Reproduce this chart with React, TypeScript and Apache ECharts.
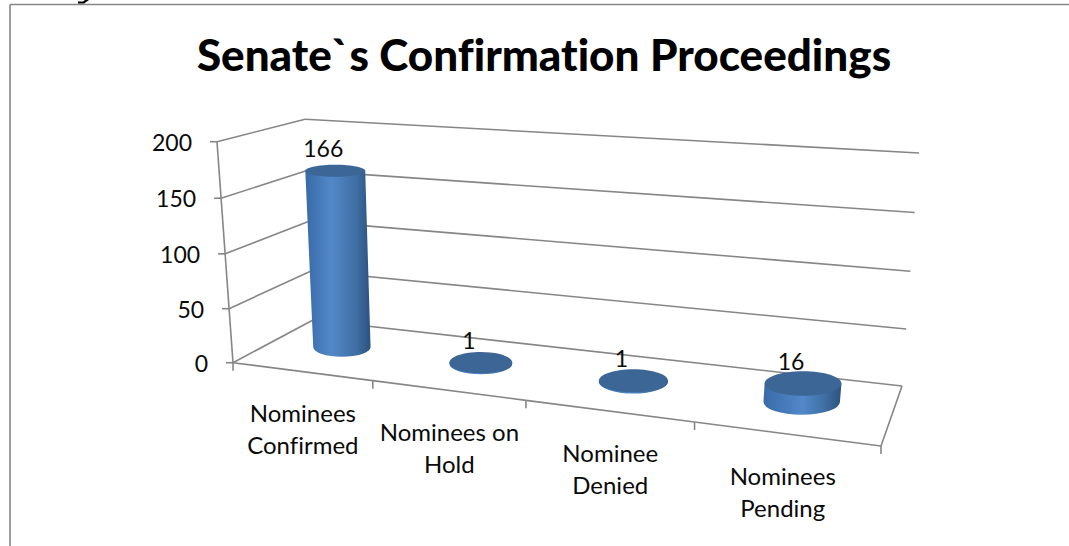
import React, { useEffect, useRef } from "react";
import * as echarts from "echarts";

const titleText = "Senate`s Confirmation Proceedings";
const categories = ["Nominees\nConfirmed", "Nominees on\nHold", "Nominee\nDenied", "Nominees\nPending"];
const values = [166, 1, 1, 16];
const yTicks = [0, 50, 100, 150, 200];

const FONT = "Lato";
const LINE = "#868686";

// Corners of the 3D box on the page
const A = [233, 362.7], B = [881, 446], C = [902, 386], D = [313, 320];
const A2 = [217, 141.7], B2 = [909, 190], C2 = [919, 153], D2 = [305, 119.3];

const lerp = (a: number[], b: number[], t: number) => [a[0] + (b[0] - a[0]) * t, a[1] + (b[1] - a[1]) * t];
const sOf = (u: number) => u / (1.212 - 0.212 * u);
const tOf = (v: number) => v * (1 - 0.03 * (1 - v));
function P(u: number, v: number, w: number) {
  const s = sOf(u), t = tOf(v);
  const floor = lerp(lerp(A, B, s), lerp(D, C, s), w);
  const top = lerp(lerp(A2, B2, s), lerp(D2, C2, s), w);
  return lerp(floor, top, t);
}

function norm(api: any, params: any, x: number, y: number) {
  const cs = params.coordSys;
  const p = api.coord([x, y]);
  return { u: (p[0] - cs.x) / cs.width, v: (cs.y + cs.height - p[1]) / cs.height };
}

const lineEl = (a: number[], b: number[]) => ({
  type: "line",
  shape: { x1: a[0], y1: a[1], x2: b[0], y2: b[1] },
  style: { stroke: LINE, lineWidth: 1.6, fill: "none" },
});
const textEl = (text: string, x: number, y: number, size: number, align: string, lineHeight?: number) => ({
  type: "text",
  z2: 50,
  style: { text, x, y, fill: "#0a0a0a", fontSize: size, fontFamily: FONT, align, verticalAlign: "middle", lineHeight },
});

function renderWall(params: any, api: any) {
  const { v } = norm(api, params, api.value(0), api.value(1));
  const a = P(0, v, 0), d = P(0, v, 1), c = P(1, v, 1);
  const children: any[] = [lineEl(a, d), lineEl(d, c), lineEl(a, [a[0] - 7, a[1]])];
  children.push(textEl(String(api.value(1)), a[0] - 25, a[1], 23, "right"));
  return { type: "group", children };
}

function renderFloor(params: any, api: any) {
  const i = api.value(0);
  const n = categories.length;
  const { u } = norm(api, params, i, 0);
  const half = 0.5 / n;
  const l = P(u - half, 0, 0), r = P(u + half, 0, 0);
  const children: any[] = [lineEl(l, [l[0], l[1] + 8])];
  if (i === n - 1) {
    children.push(lineEl(r, [r[0], r[1] + 8]));
    children.push(lineEl(r, P(1, 0, 1)));
  }
  if (i === 0) children.push(lineEl(P(0, 0, 0), P(0, 1, 0)));
  children.push(lineEl(l, r));
  const mid = [(l[0] + r[0]) / 2, (l[1] + r[1]) / 2];
  children.push(textEl(categories[i], mid[0] - (i === n - 1 ? 5 : 0), mid[1] + 57, 24, "center", 32));
  return { type: "group", children };
}

const DU = 0.054, DW = 0.22, W = 0.55;
function renderBar(params: any, api: any) {
  const i = api.value(0);
  const val = api.value(1);
  const { u, v } = norm(api, params, i, val);
  const c0 = P(u, 0, W), c1 = P(u, v, W);
  const rb = (P(u + DU, 0, W)[0] - P(u - DU, 0, W)[0]) / 2;
  const ryb = Math.abs(P(u, 0, W + DW)[1] - P(u, 0, W - DW)[1]) / 2;
  const rt = (P(u + DU, v, W)[0] - P(u - DU, v, W)[0]) / 2;
  const ryt = Math.abs(P(u, v, W + DW)[1] - P(u, v, W - DW)[1]) / 2;
  const light = 0.38 + 0.14 * u;
  const body = new echarts.graphic.LinearGradient(0, 0, 1, 0, [
    { offset: 0, color: "#386aa6" },
    { offset: light, color: "#5288ca" },
    { offset: 0.78, color: "#3f6fa3" },
    { offset: 1, color: "#2c527f" },
  ]);
  const d = `M ${c1[0] - rt} ${c1[1]} L ${c0[0] - rb} ${c0[1]} A ${rb} ${ryb} 0 0 0 ${c0[0] + rb} ${c0[1]} L ${c1[0] + rt} ${c1[1]} Z`;
  return {
    type: "group",
    children: [
      { type: "path", shape: { pathData: d }, style: { fill: body }, z2: 10 },
      { type: "ellipse", shape: { cx: c1[0], cy: c1[1], rx: rt, ry: ryt }, style: { fill: "#3c6695" }, z2: 11 },
      textEl(String(val), c1[0] - 12, c1[1] - 23, 23, "center"),
    ],
  };
}

export default function App() {
  const ref = useRef<HTMLDivElement>(null);
  useEffect(() => {
    document.body.style.margin = "0";
    const chart = echarts.init(ref.current!, null, { renderer: "svg" });
    chart.setOption({
      animation: false,
      backgroundColor: "#fff",
      title: {
        text: titleText,
        left: 539,
        top: 27,
        textAlign: "center",
        textStyle: { fontFamily: FONT, fontWeight: 900, fontSize: 44, color: "#000" },
      },
      grid: { left: 100, right: 100, top: 100, bottom: 100 },
      xAxis: { type: "category", data: categories, show: false },
      yAxis: { type: "value", min: 0, max: 200, interval: 50, show: false },
      graphic: [
        { type: "line", shape: { x1: 10, y1: 4.5, x2: 1069, y2: 4.5 }, style: { stroke: LINE, lineWidth: 1.6 } },
        { type: "line", shape: { x1: 10, y1: 4.5, x2: 10, y2: 546 }, style: { stroke: LINE, lineWidth: 1.6 } },
        { type: "polygon", shape: { points: [[78, 3.5], [84, 3.5], [89, 0], [85, 0], [83, 1.5], [78, 1.5]] }, style: { fill: "#000" } },
      ],
      series: [
        { type: "custom", name: "walls", renderItem: renderWall, data: yTicks.map((t) => [0, t]), encode: { x: 0, y: 1 }, silent: true, z: 1 },
        { type: "custom", name: "floor", renderItem: renderFloor, data: categories.map((_, i) => [i, 0]), encode: { x: 0, y: 1 }, silent: true, z: 2 },
        { type: "custom", name: "bars", renderItem: renderBar, data: values.map((v, i) => [i, v]), encode: { x: 0, y: 1 }, silent: true, z: 3 },
      ],
    });
    return () => chart.dispose();
  }, []);
  return <div ref={ref} style={{ position: "absolute", left: 0, top: 0, width: 1069, height: 546, fontVariantLigatures: "none" }} />;
}
